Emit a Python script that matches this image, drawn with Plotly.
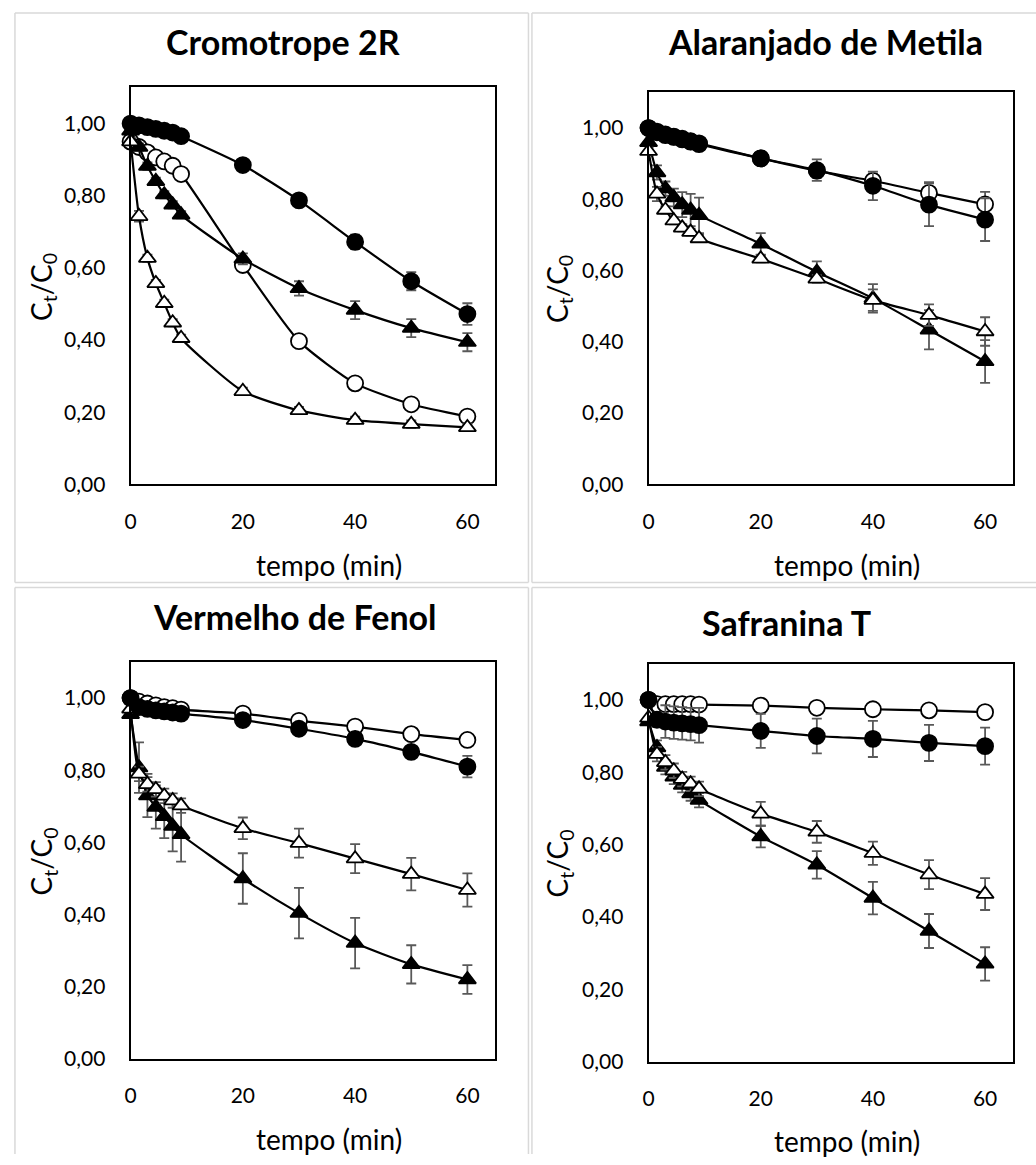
import plotly.graph_objects as go

# ---------------- data ----------------
tempo = [0, 1.5, 3, 4.5, 6, 7.5, 9, 20, 30, 40, 50, 60]

titulos = ["Cromotrope 2R", "Alaranjado de Metila", "Vermelho de Fenol", "Safranina T"]

# Cromotrope 2R
cr_fc = [1.00, 0.995, 0.99, 0.985, 0.98, 0.975, 0.965, 0.885, 0.787, 0.672, 0.563, 0.472]
cr_fc_err = [0.005, 0.005, 0.005, 0.005, 0.005, 0.005, 0.005, 0.008, 0.015, 0.02, 0.025, 0.03]
cr_oc = [0.95, 0.935, 0.92, 0.906, 0.895, 0.883, 0.86, 0.608, 0.397, 0.28, 0.222, 0.188]
cr_oc_err = [0.01, 0.01, 0.015, 0.015, 0.015, 0.015, 0.015, 0.01, 0.01, 0.01, 0.01, 0.01]
cr_ft = [0.98, 0.935, 0.882, 0.84, 0.803, 0.775, 0.747, 0.625, 0.543, 0.483, 0.433, 0.394]
cr_ft_err = [0.005, 0.01, 0.01, 0.01, 0.01, 0.01, 0.01, 0.015, 0.02, 0.025, 0.025, 0.025]
cr_ot = [0.95, 0.743, 0.627, 0.557, 0.502, 0.448, 0.405, 0.258, 0.205, 0.178, 0.167, 0.158]
cr_ot_err = [0.01, 0.015, 0.01, 0.01, 0.01, 0.01, 0.01, 0.01, 0.01, 0.01, 0.01, 0.01]

# Alaranjado de Metila
am_fc = [1.00, 0.988, 0.98, 0.975, 0.968, 0.962, 0.955, 0.915, 0.882, 0.838, 0.785, 0.743]
am_fc_err = [0.005, 0.005, 0.005, 0.005, 0.005, 0.005, 0.005, 0.01, 0.03, 0.04, 0.06, 0.06]
am_oc = [1.00, 0.99, 0.982, 0.976, 0.97, 0.963, 0.957, 0.915, 0.88, 0.852, 0.818, 0.786]
am_oc_err = [0.005, 0.005, 0.005, 0.005, 0.005, 0.005, 0.005, 0.01, 0.02, 0.02, 0.03, 0.035]
am_ft = [0.96, 0.875, 0.83, 0.805, 0.785, 0.77, 0.755, 0.675, 0.596, 0.522, 0.434, 0.345]
am_ft_err = [0.01, 0.02, 0.02, 0.025, 0.035, 0.045, 0.05, 0.03, 0.03, 0.04, 0.055, 0.06]
am_ot = [0.935, 0.815, 0.77, 0.74, 0.72, 0.708, 0.69, 0.633, 0.577, 0.517, 0.475, 0.429]
am_ot_err = [0.01, 0.02, 0.01, 0.01, 0.01, 0.01, 0.01, 0.01, 0.01, 0.03, 0.03, 0.04]

# Vermelho de Fenol
vf_fc = [1.00, 0.975, 0.97, 0.966, 0.963, 0.96, 0.957, 0.939, 0.915, 0.887, 0.851, 0.81]
vf_fc_err = [0.005, 0.005, 0.005, 0.005, 0.005, 0.005, 0.005, 0.01, 0.01, 0.01, 0.01, 0.03]
vf_oc = [1.00, 0.99, 0.985, 0.98, 0.975, 0.972, 0.968, 0.957, 0.937, 0.921, 0.90, 0.884]
vf_oc_err = [0.005, 0.005, 0.005, 0.005, 0.005, 0.005, 0.005, 0.005, 0.005, 0.005, 0.005, 0.005]
vf_ft = [0.955, 0.807, 0.73, 0.698, 0.672, 0.645, 0.622, 0.50, 0.404, 0.321, 0.262, 0.22]
vf_ft_err = [0.01, 0.07, 0.06, 0.06, 0.06, 0.07, 0.075, 0.07, 0.07, 0.07, 0.053, 0.04]
vf_ot = [0.97, 0.79, 0.761, 0.747, 0.729, 0.716, 0.702, 0.639, 0.598, 0.555, 0.512, 0.468]
vf_ot_err = [0.01, 0.02, 0.02, 0.02, 0.02, 0.02, 0.02, 0.03, 0.04, 0.04, 0.045, 0.046]

# Safranina T
sf_fc = [1.00, 0.945, 0.94, 0.937, 0.935, 0.933, 0.93, 0.914, 0.90, 0.892, 0.881, 0.872]
sf_fc_err = [0.005, 0.02, 0.045, 0.045, 0.045, 0.045, 0.048, 0.047, 0.048, 0.05, 0.05, 0.051]
sf_oc = [1.00, 0.988, 0.988, 0.988, 0.988, 0.988, 0.987, 0.984, 0.978, 0.974, 0.971, 0.966]
sf_oc_err = [0.005] * 12
sf_ft = [0.94, 0.868, 0.814, 0.787, 0.764, 0.741, 0.723, 0.622, 0.544, 0.452, 0.361, 0.27]
sf_ft_err = [0.01, 0.02, 0.02, 0.02, 0.02, 0.02, 0.02, 0.03, 0.038, 0.045, 0.047, 0.046]
sf_ot = [0.95, 0.85, 0.827, 0.804, 0.781, 0.768, 0.754, 0.685, 0.635, 0.576, 0.517, 0.463]
sf_ot_err = [0.01, 0.02, 0.02, 0.02, 0.02, 0.02, 0.02, 0.033, 0.03, 0.032, 0.04, 0.044]

x_ticks = [0, 20, 40, 60]
y_ticks = [0.0, 0.2, 0.4, 0.6, 0.8, 1.0]
x_label = "tempo (min)"
y_label = "C<sub>t</sub>/C<sub>0</sub>"

# ---------------- layout geometry (pixels) ----------------
W, H = 1036, 1165
FONT = "Lato"

def fx(p):
    return p / W

def fy(p):
    return 1 - p / H

panels = [
    dict(series=[(cr_oc, cr_oc_err), (cr_ft, cr_ft_err), (cr_ot, cr_ot_err), (cr_fc, cr_fc_err)],
         box=(125.3, 88.3, 492.3, 489), title_xy=(279, 42), xt_xy=(325, 570), yt_xy=(37, 290)),
    dict(series=[(am_oc, am_oc_err), (am_ft, am_ft_err), (am_ot, am_ot_err), (am_fc, am_fc_err)],
         box=(646.3, 93.3, 1013, 489), title_xy=(824, 42), xt_xy=(846, 570), yt_xy=(556, 292)),
    dict(series=[(vf_oc, vf_oc_err), (vf_ft, vf_ft_err), (vf_ot, vf_ot_err), (vf_fc, vf_fc_err)],
         box=(125.3, 668.3, 492.3, 1069), title_xy=(291, 622), xt_xy=(325, 1150), yt_xy=(37, 870)),
    dict(series=[(sf_oc, sf_oc_err), (sf_ft, sf_ft_err), (sf_ot, sf_ot_err), (sf_fc, sf_fc_err)],
         box=(646.3, 670, 1013, 1071.7), title_xy=(785, 628), xt_xy=(846, 1152), yt_xy=(556, 872)),
]

# marker styles in order: open circle, filled triangle, open triangle, filled circle
styles = [
    dict(symbol="circle", size=16, color="white"),
    dict(symbol="triangle-up", size=15, color="black"),
    dict(symbol="triangle-up", size=15, color="white"),
    dict(symbol="circle", size=16, color="black"),
]

fig = go.Figure()
annotations = []
shapes = []

for i, p in enumerate(panels):
    k = "" if i == 0 else str(i + 1)
    xa, ya = "x" + k, "y" + k
    l, t, r, b = p["box"]
    for (vals, errs), st in zip(p["series"], styles):
        fig.add_trace(go.Scatter(
            x=tempo, y=vals, xaxis=xa, yaxis=ya, mode="lines+markers",
            line=dict(color="black", width=2.2, shape="spline", smoothing=0.6),
            marker=dict(symbol=st["symbol"], size=st["size"], color=st["color"],
                        line=dict(color="black", width=1.8)),
            error_y=dict(type="data", array=errs, visible=True, color="#595959",
                         thickness=1.8, width=5),
            showlegend=False, hoverinfo="x+y", cliponaxis=False,
        ))
    axis_common = dict(showline=True, linecolor="black", linewidth=2, mirror=True,
                       showgrid=False, zeroline=False, ticks="outside",
                       tickcolor="rgba(0,0,0,0)",
                       tickfont=dict(family=FONT, size=21, color="black"))
    fig.layout["xaxis" + k] = dict(axis_common, domain=[fx(l), fx(r)], range=[0, 65],
                                   tickvals=x_ticks, anchor=ya, ticklen=17)
    fig.layout["yaxis" + k] = dict(axis_common, domain=[fy(b), fy(t)], range=[0, 1.1],
                                   tickvals=y_ticks, tickformat=".2f", anchor=xa,
                                   ticklen=19)
    tx, ty = p["title_xy"]
    annotations.append(dict(text="<b>" + titulos[i] + "</b>", x=fx(tx), y=fy(ty),
                            xref="paper", yref="paper", showarrow=False,
                            xanchor="center", yanchor="middle",
                            font=dict(family=FONT, size=34, color="black")))
    ax_, ay_ = p["xt_xy"]
    annotations.append(dict(text=x_label, x=fx(ax_), y=fy(ay_), xref="paper", yref="paper",
                            showarrow=False, xanchor="center", yanchor="middle",
                            font=dict(family=FONT, size=28, color="black")))
    bx, by = p["yt_xy"]
    annotations.append(dict(text=y_label, x=fx(bx), y=fy(by), xref="paper", yref="paper",
                            showarrow=False, xanchor="center", yanchor="middle", textangle=-90,
                            font=dict(family=FONT, size=28, color="black")))

# light grey panel frames (only the edges that fall inside the picture)
frame_segments = [
    # panel 1
    (9, 13, 525.5, 13), (9, 13, 9, 588), (525.5, 13, 525.5, 588), (9, 588, 525.5, 588),
    # panel 2
    (529, 13, 1036, 13), (529, 13, 529, 588), (529, 588, 1036, 588),
    # panel 3
    (9, 593, 525.5, 593), (9, 593, 9, 1165), (525.5, 593, 525.5, 1165),
    # panel 4
    (529, 593, 1036, 593), (529, 593, 529, 1165),
]
for (x0, y0, x1, y1) in frame_segments:
    shapes.append(dict(type="line", xref="paper", yref="paper",
                       x0=fx(x0), x1=fx(x1), y0=fy(y0), y1=fy(y1),
                       line=dict(color="#d9d9d9", width=1.5), layer="below"))

fig.update_layout(width=W, height=H, margin=dict(l=0, r=0, t=0, b=0),
                  paper_bgcolor="white", plot_bgcolor="white",
                  separators=",.", annotations=annotations, shapes=shapes,
                  font=dict(family=FONT, color="black"))

fig.write_html("out.html", config={"displayModeBar": False},
               post_script="document.body.style.margin='0px';document.body.style.overflow='hidden';")
